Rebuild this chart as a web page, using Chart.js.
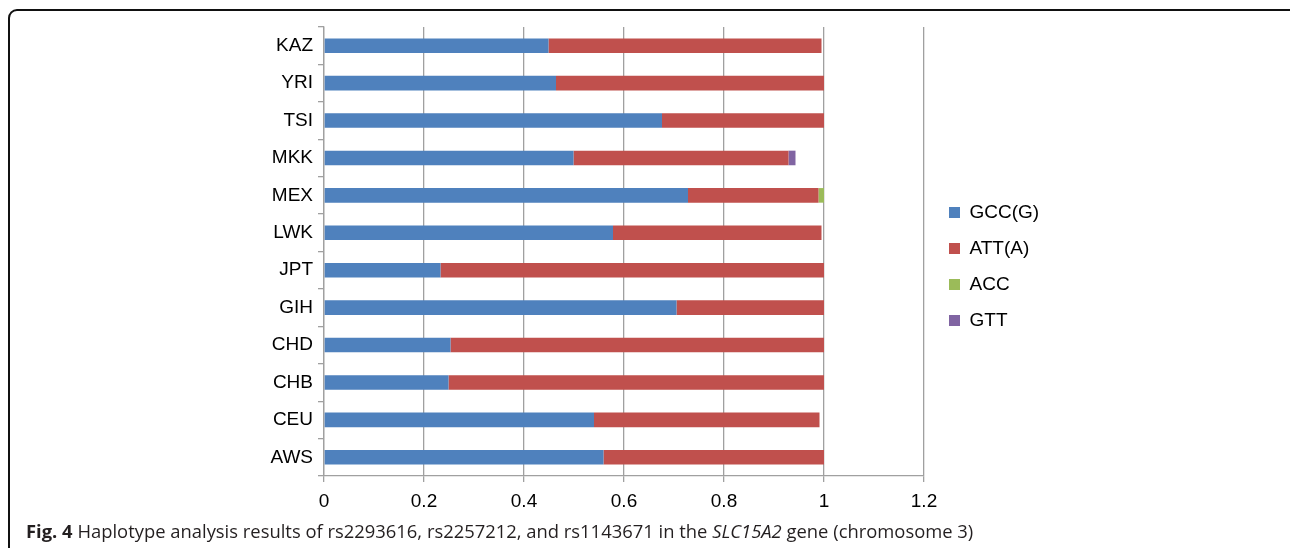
<!DOCTYPE html>
<html lang="en">
<head>
    <meta charset="UTF-8">
    <title>Fig. 4 Haplotype analysis</title>
    <script src="https://cdn.jsdelivr.net/npm/chart.js"></script>
    <style>
        html, body { margin: 0; padding: 0; background: #fff; }
        body { width: 1290px; height: 548px; position: relative; overflow: hidden; }
        .frame {
            position: absolute; left: 8px; top: 9px; width: 1290px; height: 560px;
            border: 2px solid #111; border-radius: 9px; box-sizing: border-box;
        }
        .chart-box { position: absolute; left: 0; top: 0; width: 1290px; height: 548px; }
        .caption {
            position: absolute; left: 26px; top: 518px; white-space: nowrap;
            font-family: 'Open Sans', sans-serif; font-size: 18.4px; color: #231f20;
        }
        .caption b { font-weight: 700; }
    </style>
</head>
<body>
    <div class="frame"></div>
    <div class="chart-box"><canvas id="haploChart"></canvas></div>
    <div class="caption"><b>Fig. 4</b> Haplotype analysis results of rs2293616, rs2257212, and rs1143671 in the <i>SLC15A2</i> gene (chromosome 3)</div>

    <script>
        // populations, listed top to bottom as in the figure
        const populations = ['KAZ', 'YRI', 'TSI', 'MKK', 'MEX', 'LWK', 'JPT', 'GIH', 'CHD', 'CHB', 'CEU', 'AWS'];

        // haplotype frequencies
        const gccG = [0.449, 0.464, 0.676, 0.499, 0.728, 0.578, 0.233, 0.705, 0.253, 0.249, 0.540, 0.559];
        const attA = [0.546, 0.536, 0.324, 0.430, 0.261, 0.417, 0.767, 0.295, 0.747, 0.751, 0.451, 0.441];
        const acc  = [0, 0, 0, 0, 0.011, 0, 0, 0, 0, 0, 0, 0];
        const gtt  = [0, 0, 0, 0.014, 0, 0, 0, 0, 0, 0, 0, 0];

        const xTicks = [0, 0.2, 0.4, 0.6, 0.8, 1, 1.2];

        const axisGray = '#a0a0a0';
        const labelFont = { family: "'Liberation Sans', Arial, sans-serif", size: 19 };
        const plotRight = 924; // where 1.2 sits

        // moves the legend block after layout
        const legendShift = {
            id: 'legendShift',
            afterLayout(chart) {
                const lg = chart.legend;
                if (!lg) return;
                lg.left += 8; lg.right += 8;
                lg.top -= 21; lg.bottom -= 21;
            }
        };

        const makeSet = (label, data, color) => ({
            label: label,
            data: data,
            backgroundColor: color,
            borderWidth: 0,
            barPercentage: 0.39,
            categoryPercentage: 1.0
        });

        document.addEventListener('DOMContentLoaded', () => {
            const ctx = document.getElementById('haploChart').getContext('2d');
            const chart = new Chart(ctx, {
                type: 'bar',
                data: {
                    labels: populations,
                    datasets: [
                        makeSet('GCC(G)', gccG, '#4f81bd'),
                        makeSet('ATT(A)', attA, '#c0504d'),
                        makeSet('ACC', acc, '#9bbb59'),
                        makeSet('GTT', gtt, '#8064a2')
                    ]
                },
                options: {
                    indexAxis: 'y',
                    responsive: true,
                    maintainAspectRatio: false,
                    animation: false,
                    layout: { padding: { top: 27, right: 250, bottom: 0, left: 0 } },
                    plugins: {
                        tooltip: { enabled: false },
                        legend: {
                            position: 'right',
                            labels: {
                                boxWidth: 11,
                                boxHeight: 11,
                                padding: 17,
                                color: '#000',
                                font: labelFont
                            }
                        }
                    },
                    scales: {
                        x: {
                            stacked: true,
                            min: 0,
                            max: 1.2,
                            afterBuildTicks: (scale) => { scale.ticks = xTicks.map(v => ({ value: v })); },
                            afterFit: (scale) => { scale.height = 72; },
                            grid: { color: axisGray, lineWidth: 1.3, tickLength: 6 },
                            border: { color: axisGray, width: 1.3 },
                            ticks: {
                                color: '#000',
                                font: labelFont,
                                padding: 8,
                                callback: (v) => String(Number(v.toFixed(1)))
                            }
                        },
                        y: {
                            stacked: true,
                            afterFit: (scale) => { scale.width = 324; },
                            grid: { drawOnChartArea: false, color: axisGray, lineWidth: 1.3, tickLength: 6 },
                            border: { color: axisGray, width: 1.3 },
                            ticks: { color: '#000', font: labelFont, padding: 5 }
                        }
                    }
                },
                plugins: [legendShift]
            });

            // legend width depends on text metrics, so fix the right edge once
            const diff = chart.chartArea.right - plotRight;
            if (Math.abs(diff) > 0.5) {
                chart.options.layout.padding.right += diff;
                chart.update();
            }
        });
    </script>
</body>
</html>
